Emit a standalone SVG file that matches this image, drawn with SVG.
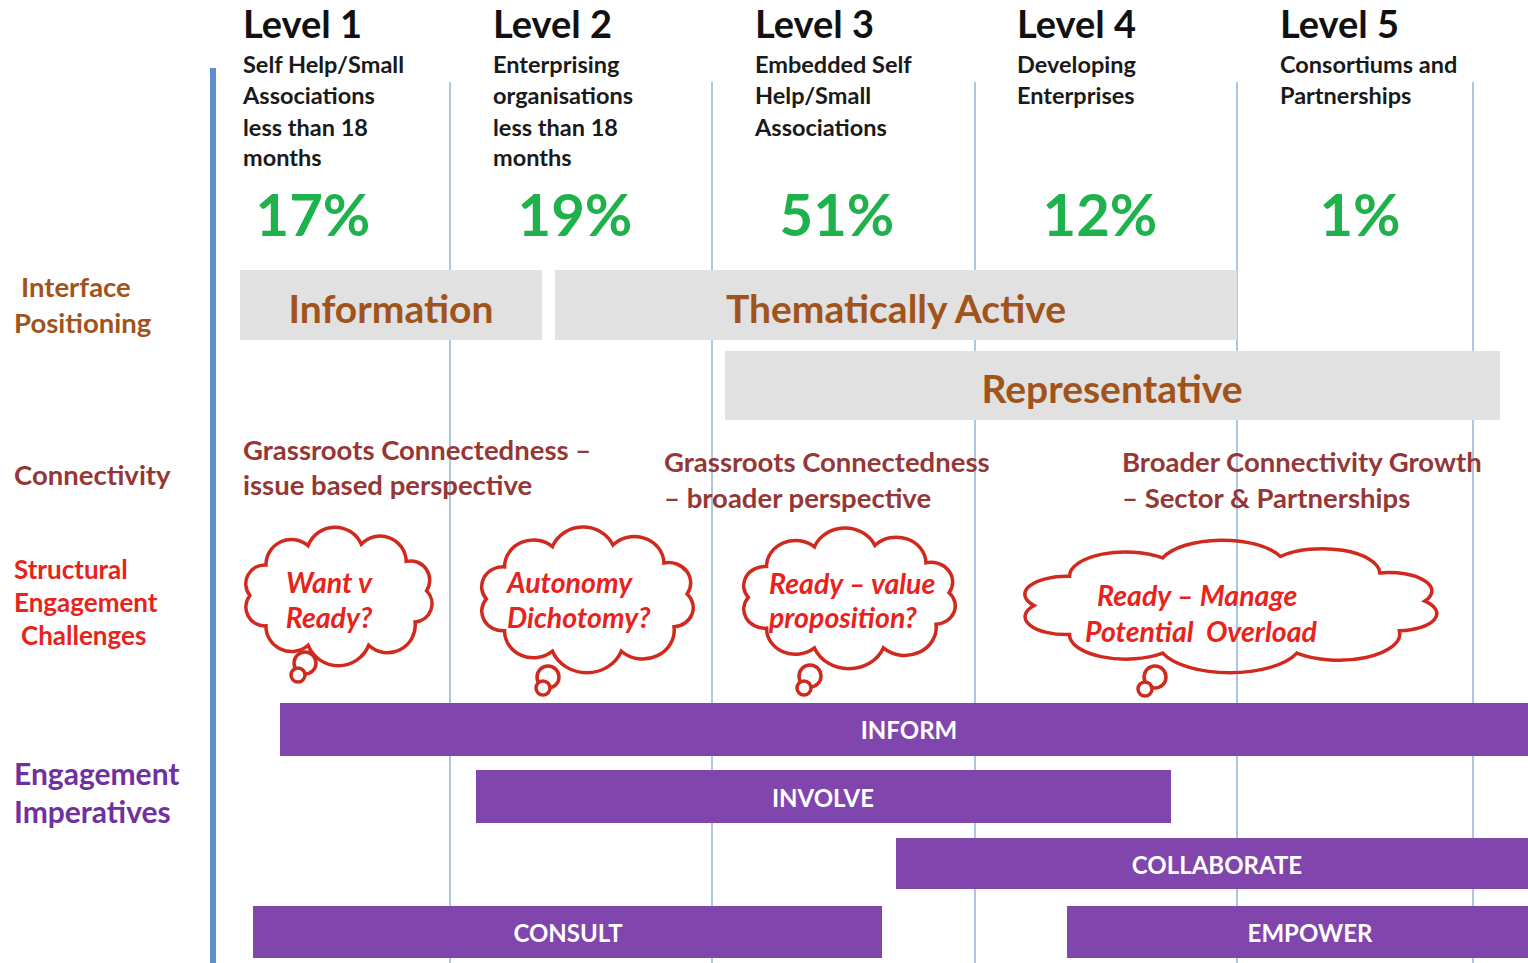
<svg xmlns="http://www.w3.org/2000/svg" xmlns:xlink="http://www.w3.org/1999/xlink" width="1528" height="963" viewBox="0 0 1528 963">
<style>
text{font-family:Lato,"Open Sans","Liberation Sans",sans-serif;font-weight:bold}
.lvl{font-size:38px;fill:#111}
.desc{font-size:23.5px;fill:#1a1a1a}
.pct{font-size:58px;fill:#1fb14b;text-anchor:middle}
.box{fill:#e1e1e1}
.boxt{font-size:39px;fill:#a0541c;text-anchor:middle}
.lab{font-size:27.5px}
.red{font-size:26px;fill:#e8231c}
.conn{font-size:27.5px;fill:#953735}
.cloud{fill:none;stroke:#d02a1e;stroke-width:3.5;vector-effect:non-scaling-stroke}
.bub{fill:#fff;stroke:#d02a1e;stroke-width:3.5}
.ct{font-size:28.5px;fill:#e8231c;font-style:italic;white-space:pre}
.bar{fill:#8146ad}
.bart{font-size:24px;fill:#fff;text-anchor:middle}
.grid{stroke:#8fb4dc;stroke-width:1.5}
</style>
<defs>
<path id="cloudShape" class="cloud" d="M20,70 A17,17 0 0,1 34.5,42.4 A23,23 0 0,1 72.6,24.9 A26,26 0 0,1 120.7,23.6 A23.5,23.5 0 0,1 161.3,39.1 A17.5,17.5 0 0,1 179.7,65.8 A16.5,16.5 0 0,1 169.3,94 A25,25 0 0,1 127.4,115.1 A29.5,29.5 0 0,1 72.6,115.1 A23,23 0 0,1 34.5,97.5 A17,17 0 0,1 20,70 Z"/>
</defs>
<rect width="1528" height="963" fill="#fff"/>
<g id="grid">
<line x1="213" y1="68" x2="213" y2="963" stroke="#5b8fd0" stroke-width="6"/>
<line class="grid" x1="450" y1="82" x2="450" y2="963"/>
<line class="grid" x1="712" y1="82" x2="712" y2="963"/>
<line class="grid" x1="975" y1="82" x2="975" y2="963"/>
<line class="grid" x1="1237" y1="82" x2="1237" y2="963"/>
<line class="grid" x1="1473" y1="82" x2="1473" y2="963"/>
</g>
<g id="connectors"></g>
<g id="level1"><text class="lvl" x="243" y="38">Level 1</text>
<text class="desc" x="243" y="73">Self Help/Small</text><text class="desc" x="243" y="104">Associations</text><text class="desc" x="243" y="136">less than 18</text><text class="desc" x="243" y="166">months</text>
<text class="pct" x="313" y="236">17%</text></g>
<g id="level2"><text class="lvl" x="493" y="38">Level 2</text>
<text class="desc" x="493" y="73">Enterprising</text><text class="desc" x="493" y="104">organisations</text><text class="desc" x="493" y="136">less than 18</text><text class="desc" x="493" y="166">months</text>
<text class="pct" x="575" y="236">19%</text></g>
<g id="level3"><text class="lvl" x="755" y="38">Level 3</text>
<text class="desc" x="755" y="73">Embedded Self</text><text class="desc" x="755" y="104">Help/Small</text><text class="desc" x="755" y="136">Associations</text>
<text class="pct" x="837" y="236">51%</text></g>
<g id="level4"><text class="lvl" x="1017" y="38">Level 4</text>
<text class="desc" x="1017" y="73">Developing</text><text class="desc" x="1017" y="104">Enterprises</text>
<text class="pct" x="1100" y="236">12%</text></g>
<g id="level5"><text class="lvl" x="1280" y="38">Level 5</text>
<text class="desc" x="1280" y="73">Consortiums and</text><text class="desc" x="1280" y="104">Partnerships</text>
<text class="pct" x="1360" y="236">1%</text></g>
<g id="labels">
<text class="lab" fill="#a0541c" x="21" y="297">Interface</text>
<text class="lab" fill="#a0541c" x="14" y="333">Positioning</text>
<text class="lab" fill="#953735" x="14" y="485">Connectivity</text>
<text class="red" x="14" y="579">Structural</text>
<text class="red" x="14" y="612">Engagement</text>
<text class="red" x="21" y="645">Challenges</text>
<text class="lab" fill="#7030a0" x="14" y="785" style="font-size:30px">Engagement</text>
<text class="lab" fill="#7030a0" x="14" y="823" style="font-size:30px">Imperatives</text>
</g>
<g id="information"><rect class="box" x="240" y="270" width="302" height="70"/><text class="boxt" x="391" y="323">Information</text></g>
<g id="thematically-active"><rect class="box" x="555" y="270" width="682" height="70"/><text class="boxt" x="896" y="323">Thematically Active</text></g>
<g id="representative"><rect class="box" x="725" y="351" width="775" height="69"/><text class="boxt" x="1112" y="403">Representative</text></g>
<g id="conn1"><text class="conn" x="243" y="460">Grassroots Connectedness –</text><text class="conn" x="243" y="495">issue based perspective</text></g>
<g id="conn2"><text class="conn" x="664" y="472">Grassroots Connectedness</text><text class="conn" x="664" y="508">– broader perspective</text></g>
<g id="conn3"><text class="conn" x="1122" y="472">Broader Connectivity Growth</text><text class="conn" x="1122" y="508">– Sector &amp; Partnerships</text></g>
<g id="cloud1"><use xlink:href="#cloudShape" transform="translate(227.8,518.2) scale(1.106,1.104)"/>
<circle class="bub" cx="305" cy="663" r="11"/><circle class="bub" cx="298" cy="675" r="7"/>
<text class="ct" x="329" y="593" text-anchor="middle">Want v</text><text class="ct" x="329" y="628" text-anchor="middle">Ready?</text></g>
<g id="cloud2"><use xlink:href="#cloudShape" transform="translate(461.2,517.7) scale(1.257,1.16)"/>
<circle class="bub" cx="548" cy="677" r="11"/><circle class="bub" cx="543" cy="688" r="7"/>
<text class="ct" x="507" y="593">Autonomy</text><text class="ct" x="507" y="628">Dichotomy?</text></g>
<g id="cloud3"><use xlink:href="#cloudShape" transform="translate(723.2,519) scale(1.257,1.12)"/>
<circle class="bub" cx="810" cy="676" r="11"/><circle class="bub" cx="804" cy="688" r="7"/>
<text class="ct" x="769" y="594">Ready – value</text><text class="ct" x="769" y="628">proposition?</text></g>
<g id="cloud4"><use xlink:href="#cloudShape" transform="translate(985.1,531.6) scale(2.447,1.056)"/>
<circle class="bub" cx="1155" cy="677" r="11"/><circle class="bub" cx="1145" cy="689" r="7"/>
<text class="ct" x="1097" y="606">Ready – Manage</text><text class="ct" x="1085" y="642" xml:space="preserve">Potential  Overload</text></g>
<g id="inform"><rect class="bar" x="280" y="703" width="1248" height="53"/><text class="bart" x="909" y="739">INFORM</text></g>
<g id="involve"><rect class="bar" x="476" y="770" width="695" height="53"/><text class="bart" x="823" y="807">INVOLVE</text></g>
<g id="collaborate"><rect class="bar" x="896" y="838" width="632" height="51"/><text class="bart" x="1217" y="874">COLLABORATE</text></g>
<g id="consult"><rect class="bar" x="253" y="906" width="629" height="52"/><text class="bart" x="568" y="942">CONSULT</text></g>
<g id="empower"><rect class="bar" x="1067" y="906" width="461" height="52"/><text class="bart" x="1310" y="942">EMPOWER</text></g>
</svg>
